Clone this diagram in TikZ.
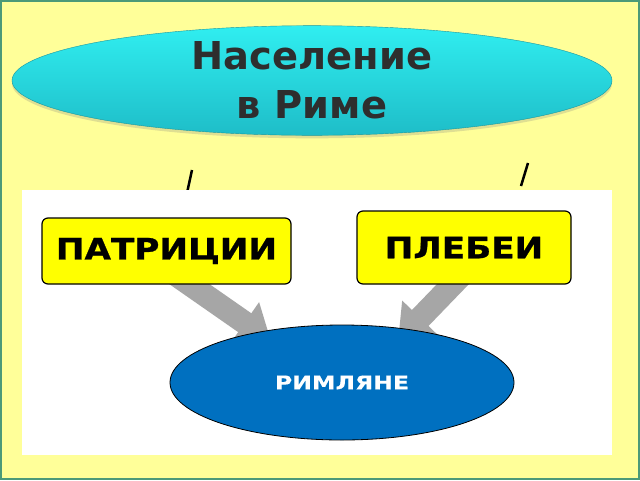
\documentclass[tikz,border=0pt]{standalone}
\usepackage{fontspec}
\setmainfont{DejaVu Sans}
\newfontfamily\boxfont[FakeStretch=1.16,FakeBold=0.8]{DejaVu Sans}
\newfontfamily\romfont[FakeStretch=1.24,FakeBold=0.3]{DejaVu Sans}
\usetikzlibrary{shapes.geometric,arrows.meta,calc,shadows}
\pgfdeclarelayer{back}
\pgfdeclarelayer{mid}
\pgfsetlayers{back,mid,main}
\definecolor{bgyellow}{HTML}{FFFF99}
\definecolor{framegreen}{HTML}{4C9A78}
\definecolor{cyantop}{HTML}{30EEF0}
\definecolor{cyanbot}{HTML}{1EBDC8}
\definecolor{boxyellow}{HTML}{FFFF00}
\definecolor{romblue}{HTML}{0070C0}
\definecolor{arrowgray}{HTML}{A6A6A6}
\definecolor{titlegray}{HTML}{2E2E2E}
\tikzset{
  titleell/.style={ellipse, inner sep=0pt, minimum width=600pt, minimum height=105pt,
    top color=cyantop, bottom color=cyanbot, draw=cyanbot!80!black, line width=0.4pt,
    drop shadow={opacity=0.25, shadow xshift=0pt, shadow yshift=-3pt},
    text=titlegray, align=center, font=\bfseries\fontsize{38.4}{49}\selectfont},
  groupbox/.style={rectangle, rounded corners=6pt, fill=boxyellow, draw=black, line width=1.2pt,
    inner sep=0pt, font=\boxfont\bfseries\fontsize{29.5}{30}\selectfont},
  romell/.style={ellipse, inner sep=0pt, minimum width=344pt, minimum height=115pt,
    fill=romblue, draw=black, line width=0.8pt, text=white,
    font=\romfont\bfseries\fontsize{19}{20}\selectfont},
  bigarrow/.style={draw=arrowgray, line width=23pt, -{Triangle[width=48pt,length=32pt]}},
  tick/.style={draw=black, line width=2.5pt}
}
\begin{document}
\begin{tikzpicture}[x=1pt,y=-1pt]
\useasboundingbox (0,0) rectangle (640,480);
\begin{pgfonlayer}{back}
\fill[bgyellow] (0,0) rectangle (640,480);
\draw[framegreen, line width=2pt] (1,1) rectangle (639,479);
\draw[tick] (192,170) -- (187,193);
\draw[tick] (528,163) -- (521,186);
\fill[white] (22,190) rectangle (612,455);
\end{pgfonlayer}
% title
\node[titleell] (title) at (312,80.5) {Население\\в Риме};
% boxes
\node[groupbox, minimum width=249pt, minimum height=66pt] (pat) at (166.5,251) {ПАТРИЦИИ};
\node[groupbox, minimum width=214pt, minimum height=73pt] (pleb) at (464,247.5) {ПЛЕБЕИ};
\node[romell] (rim) at (342,382.5) {РИМЛЯНЕ};
\begin{pgfonlayer}{mid}
\draw[bigarrow] ($(pat.south)+(3.5,-14)$) -- ($(rim.center)+(-71,-41.5)$);
\draw[bigarrow] ($(pleb.south)+(2,-14)$) -- ($(rim.center)+(56,-41.5)$);
\end{pgfonlayer}
\end{tikzpicture}
\end{document}
